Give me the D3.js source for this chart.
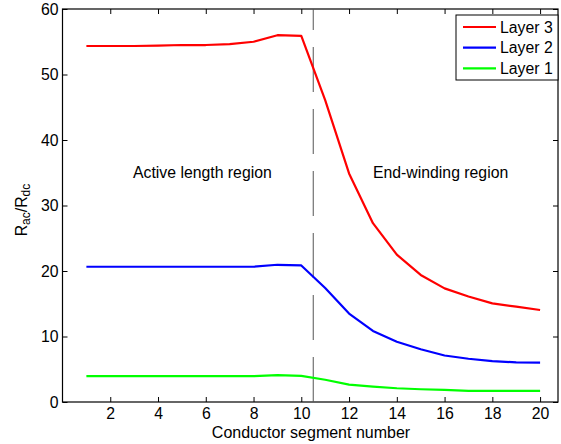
<!DOCTYPE html>
<html>
<head>
<meta charset="utf-8">
<script src="https://d3js.org/d3.v7.min.js"></script>
<style>
  body { margin: 0; background: #fff; }
  text { font-family: "Liberation Sans", Arial, sans-serif; fill: #000; }
</style>
</head>
<body>
<svg width="561" height="444"></svg>

<script>

// data
var segments = [1, 2, 3, 4, 5, 6, 7, 8, 9, 10, 11, 12, 13, 14, 15, 16, 17, 18, 19, 20];
var layer3 = [54.35, 54.35, 54.35, 54.4, 54.5, 54.5, 54.65, 55.0, 56.0, 55.9, 46.1, 34.9, 27.3, 22.5, 19.4, 17.35, 16.1, 15.05, 14.55, 14.05];
var layer2 = [20.65, 20.65, 20.65, 20.65, 20.65, 20.65, 20.65, 20.65, 20.95, 20.85, 17.4, 13.5, 10.85, 9.2, 8.05, 7.1, 6.6, 6.25, 6.05, 6.0];
var layer1 = [3.95, 3.95, 3.95, 3.95, 3.95, 3.95, 3.95, 3.95, 4.1, 4.0, 3.4, 2.65, 2.35, 2.1, 1.95, 1.85, 1.7, 1.7, 1.7, 1.7];
var xTicks = [2, 4, 6, 8, 10, 12, 14, 16, 18, 20];
var yTicks = [0, 10, 20, 30, 40, 50, 60];
var boundary = 10.5;

var series = [
  { name: "Layer 3", values: layer3, color: "#ff0000" },
  { name: "Layer 2", values: layer2, color: "#0000ff" },
  { name: "Layer 1", values: layer1, color: "#00ff00" }
];

var fs = "15.8px";

var svg = d3.select("svg");

svg.append("rect")
  .attr("width", 561).attr("height", 444)
  .attr("fill", "#fff");

var x = d3.scaleLinear()
  .domain([0, 20.75])
  .range([62.5, 558]);

var y = d3.scaleLinear()
  .domain([0, 60])
  .range([402, 9]);

// axes, ticks pointing inside like matlab
var xAxis = d3.axisBottom(x).tickValues(xTicks).tickSizeInner(-5).tickSizeOuter(0).tickPadding(6);
var yAxis = d3.axisLeft(y).tickValues(yTicks).tickSizeInner(-5).tickSizeOuter(0).tickPadding(4);

svg.append("g")
  .attr("transform", "translate(0,402)")
  .call(xAxis);
svg.append("g")
  .attr("transform", "translate(62.5,0)")
  .call(yAxis);

svg.append("g")
  .attr("transform", "translate(0,9)")
  .call(d3.axisTop(x).tickValues(xTicks).tickSizeInner(-5).tickSizeOuter(0).tickFormat(""));
svg.append("g")
  .attr("transform", "translate(558,0)")
  .call(d3.axisRight(y).tickValues(yTicks).tickSizeInner(-5).tickSizeOuter(0).tickFormat(""));

svg.selectAll(".domain").remove();
svg.selectAll(".tick line").attr("stroke", "#000");
svg.selectAll(".tick text").style("font-size", fs).attr("fill", "#000");

svg.append("rect")
  .attr("x", x(0)).attr("y", y(60))
  .attr("width", x(20.75) - x(0)).attr("height", y(0) - y(60))
  .attr("fill", "none")
  .attr("stroke", "#000")
  .attr("stroke-width", 1.2);

// boundary between regions
svg.append("line")
  .attr("x1", x(boundary)).attr("x2", x(boundary))
  .attr("y1", y(0)).attr("y2", y(60))
  .attr("stroke", "#555")
  .attr("stroke-width", 1)
  .attr("stroke-dasharray", "45,17");

var line = d3.line()
  .x(function(d, i) { return x(segments[i]); })
  .y(function(d) { return y(d); });

svg.selectAll(".series")
  .data(series)
  .enter().append("path")
  .attr("class", "series")
  .attr("d", function(d) { return line(d.values); })
  .attr("fill", "none")
  .attr("stroke", function(d) { return d.color; })
  .attr("stroke-width", 2.2)
  .attr("stroke-linejoin", "round");

// region labels
svg.append("text")
  .attr("x", 133).attr("y", 178)
  .style("font-size", fs)
  .text("Active length region");
svg.append("text")
  .attr("x", 373).attr("y", 178)
  .style("font-size", fs)
  .text("End-winding region");

// axis titles
svg.append("text")
  .attr("x", 311).attr("y", 438)
  .attr("text-anchor", "middle")
  .style("font-size", "16px")
  .text("Conductor segment number");

var yl = svg.append("text")
  .attr("transform", "translate(27,210) rotate(-90)")
  .attr("text-anchor", "middle")
  .style("font-size", fs);
yl.append("tspan").text("R");
yl.append("tspan").attr("baseline-shift", "-25%").style("font-size", "12px").text("ac");
yl.append("tspan").text("/R");
yl.append("tspan").attr("baseline-shift", "-25%").style("font-size", "12px").text("dc");

// legend
var legend = svg.append("g");
legend.append("rect")
  .attr("x", 456).attr("y", 15)
  .attr("width", 102).attr("height", 65)
  .attr("fill", "#fff")
  .attr("stroke", "#000")
  .attr("stroke-width", 1);

var item = legend.selectAll(".item")
  .data(series)
  .enter().append("g")
  .attr("class", "item")
  .attr("transform", function(d, i) { return "translate(0," + (27 + i * 20.7) + ")"; });
item.append("line")
  .attr("x1", 463).attr("x2", 496)
  .attr("stroke", function(d) { return d.color; })
  .attr("stroke-width", 2.2);
item.append("text")
  .attr("x", 500).attr("y", 5.5)
  .style("font-size", fs)
  .text(function(d) { return d.name; });

</script>
</body>
</html>
